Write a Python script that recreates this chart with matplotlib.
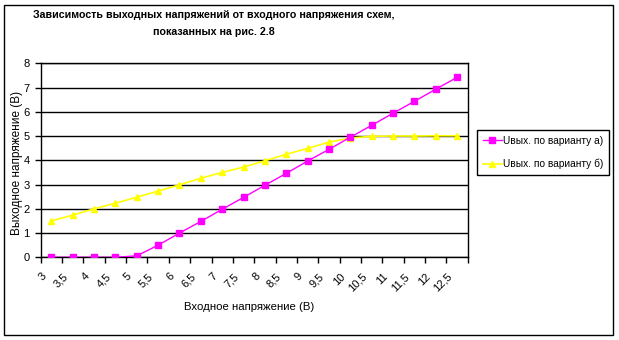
import matplotlib
matplotlib.use("Agg")
import matplotlib.pyplot as plt
from matplotlib.patches import Rectangle
import matplotlib.transforms as mtransforms
import numpy as np

plt.rcParams['font.family'] = ['Liberation Sans', 'DejaVu Sans']

categories = ['3', '3,5', '4', '4,5', '5', '5,5', '6', '6,5', '7', '7,5',
              '8', '8,5', '9', '9,5', '10', '10,5', '11', '11,5', '12', '12,5']
series_a = [0, 0, 0, 0, 0.06, 0.5, 1.0, 1.48, 1.98, 2.47, 2.97, 3.46, 3.97,
            4.45, 4.95, 5.44, 5.94, 6.43, 6.93, 7.42]
series_b = [1.5, 1.74, 2.0, 2.23, 2.48, 2.73, 2.99, 3.26, 3.5, 3.72, 3.98,
            4.25, 4.49, 4.75, 4.92, 4.99, 5.0, 5.0, 5.01, 5.01]
label_a = 'Uвых. по варианту а)'
label_b = 'Uвых. по варианту б)'
title = 'Зависимость выходных напряжений от входного напряжения схем,\nпоказанных на рис. 2.8'
xlabel = 'Входное напряжение (В)'
ylabel = 'Выходное напряжение (В)'

W, H = 619, 340
fig = plt.figure(figsize=(W / 100, H / 100), dpi=100)
fig.patch.set_facecolor('white')

left, right, top, bottom = 40.7, 467.7, 63.3, 257.3
ax = fig.add_axes([left / W, 1 - bottom / H, (right - left) / W, (bottom - top) / H])

x = np.arange(len(categories))
ax.plot(x, series_a, color='#FF00FF', lw=1, marker='s', ms=4.5, mec='#FF00FF',
        mfc='#FF00FF', label=label_a, zorder=4)
ax.plot(x, series_b, color='#FFFF00', lw=1.2, marker='^', ms=5, mec='#FFFF00',
        mfc='#FFFF00', label=label_b, zorder=3)

ax.set_xlim(-0.5, len(categories) - 0.5)
ax.set_ylim(0, 8)
ax.set_yticks(np.arange(0, 9))
ax.yaxis.grid(True, color='black', lw=1)
ax.set_axisbelow(True)
for s in ax.spines.values():
    s.set_color('black')
    s.set_linewidth(1)

ax.set_xticks(np.arange(-0.5, len(categories)), labels=[])
ax.set_xticks(x, minor=True)
ax.set_xticklabels(categories, minor=True, rotation=45, ha='right', fontsize=8)
ax.tick_params(axis='x', which='major', direction='out', length=4, width=1)
ax.tick_params(axis='x', which='minor', length=0, pad=10)
ax.tick_params(axis='y', direction='out', length=4, width=1, labelsize=8, pad=4)
offset = mtransforms.ScaledTranslation(-3 / 100, 0, fig.dpi_scale_trans)
for lab in ax.xaxis.get_minorticklabels():
    lab.set_transform(lab.get_transform() + offset)

fig.text(249 / W, 1 - 306.7 / H, xlabel, ha='center', va='center', fontsize=8.2)
fig.text(17 / W, 1 - 162.5 / H, ylabel, ha='center', va='center', rotation=90, fontsize=8.5)
fig.text(214 / W, 1 - 10 / H, title, ha='center', va='top', fontsize=7.7,
         fontweight='bold', linespacing=1.85)

leg = fig.legend(handles=ax.get_lines(), loc='upper left',
                 bbox_to_anchor=(477 / W, 1 - 130 / H), fontsize=7.3,
                 frameon=True, fancybox=False, edgecolor='black', framealpha=1,
                 handlelength=1.9, handletextpad=0.15, borderpad=0.55,
                 labelspacing=1.3, borderaxespad=0)
leg.get_frame().set_linewidth(1)

fig.add_artist(Rectangle((4 / W, (H - 334.7) / H), 608.7 / W, 330 / H,
                         transform=fig.transFigure, fill=False, edgecolor='black', lw=1))

fig.savefig('out.png', dpi=100)
